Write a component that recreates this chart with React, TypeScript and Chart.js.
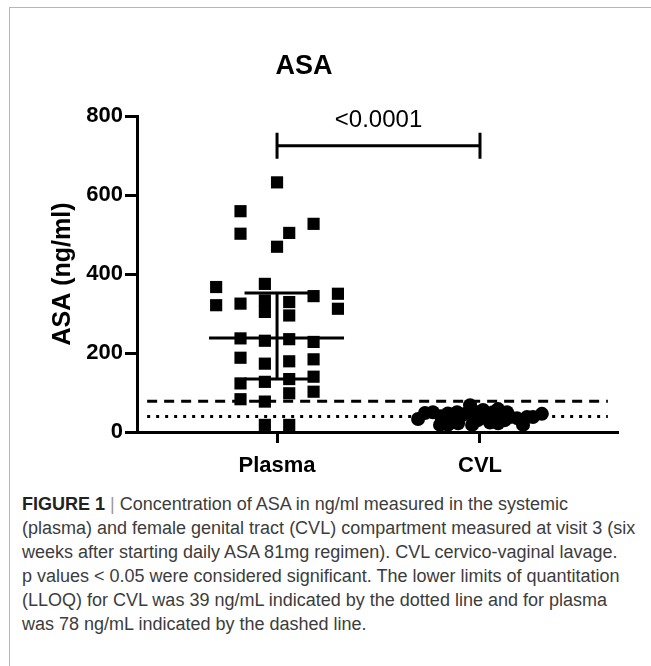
import React, { useEffect, useRef } from "react";
import { Chart, registerables } from "chart.js";

Chart.register(...registerables);

// ---------- data ----------
const categories = ["Plasma", "CVL"];
const yTickValues = [0, 200, 400, 600, 800];

// Plasma (squares): horizontal jitter (in category units) and ASA value (ng/ml)
const plasmaJitter = [
  0, -0.18, 0.18, 0.06, -0.18, 0,
  -0.3, -0.3,
  -0.18, -0.18, -0.18, -0.18, -0.18,
  -0.06, -0.06, -0.06, -0.06, -0.06, -0.06, -0.06, -0.06,
  0.06, 0.06, 0.06, 0.06, 0.06, 0.06, 0.06,
  0.18, 0.18, 0.18, 0.18, 0.18,
  0.3, 0.3,
];
const plasmaValues = [
  632, 559, 527, 504, 502, 469,
  367, 321,
  325, 237, 188, 123, 83,
  375, 333, 304, 231, 173, 127, 77, 18,
  329, 295, 235, 179, 134, 98, 18,
  344, 228, 184, 140, 102,
  350, 312,
];

// CVL (circles)
const cvlJitter = [
  -0.305, -0.271, -0.232, -0.197, -0.192, -0.158, -0.158, -0.123, -0.113, -0.108,
  -0.089, -0.064, -0.049, -0.039, -0.015, -0.01, 0.015, 0.034, 0.049, 0.064,
  0.089, 0.089, 0.123, 0.133, 0.148, 0.182, 0.212, 0.232, 0.261, 0.305,
];
const cvlValues = [
  33, 48, 50, 18, 40, 47, 18, 36, 50, 22,
  42, 48, 68, 18, 50, 30, 56, 38, 24, 50,
  58, 22, 30, 50, 38, 35, 18, 38, 38, 46,
];

// Plasma summary (median with interquartile range)
const plasmaMedian = 238;
const plasmaQ1 = 134;
const plasmaQ3 = 352;

// LLOQ reference lines
const lloqCVL = 39;
const lloqPlasma = 78;

// significance bracket
const bracketValue = 725;
const pValueLabel = "<0.0001";

const FONT = '"Liberation Sans", Arial, Helvetica, sans-serif';

const bracketPlugin = {
  id: "bracket",
  afterDatasetsDraw(chart: any) {
    const { ctx, scales } = chart;
    const x = scales.x;
    const y = scales.y;
    const x1 = x.getPixelForValue(1);
    const x2 = x.getPixelForValue(2);
    const yy = y.getPixelForValue(bracketValue);
    ctx.save();
    ctx.strokeStyle = "#000";
    ctx.lineWidth = 3;
    ctx.beginPath();
    ctx.moveTo(x1, yy);
    ctx.lineTo(x2, yy);
    ctx.moveTo(x1, yy - 13);
    ctx.lineTo(x1, yy + 13);
    ctx.moveTo(x2, yy - 13);
    ctx.lineTo(x2, yy + 13);
    ctx.stroke();
    ctx.fillStyle = "#000";
    ctx.font = `24px ${FONT}`;
    ctx.textAlign = "center";
    ctx.textBaseline = "alphabetic";
    ctx.fillText(pValueLabel, (x1 + x2) / 2, yy - 19);
    ctx.restore();
  },
};

function lineDs(points: { x: number; y: number }[], dash: number[] = []) {
  return {
    type: "scatter" as const,
    data: points,
    showLine: true,
    borderColor: "#000",
    borderWidth: 3,
    borderDash: dash,
    pointRadius: 0,
    fill: false,
    clip: false as any,
  };
}

export default function App() {
  const ref = useRef<HTMLCanvasElement | null>(null);

  useEffect(() => {
    if (!ref.current) return;
    const lineStart = 0.36;
    const lineEnd = 2.63;
    const chart = new Chart(ref.current, {
      type: "scatter",
      data: {
        datasets: [
          {
            data: plasmaValues.map((v, i) => ({ x: 1 + plasmaJitter[i], y: v })),
            pointStyle: "rect",
            pointRadius: 8.6,
            backgroundColor: "#000",
            borderColor: "#000",
            borderWidth: 0,
          },
          {
            data: cvlValues.map((v, i) => ({ x: 2 + cvlJitter[i], y: v })),
            pointStyle: "circle",
            pointRadius: 7,
            backgroundColor: "#000",
            borderColor: "#000",
            borderWidth: 0,
          },
          lineDs([{ x: 1 - 0.335, y: plasmaMedian }, { x: 1 + 0.33, y: plasmaMedian }]),
          lineDs([{ x: 1, y: plasmaQ1 }, { x: 1, y: plasmaQ3 }]),
          lineDs([{ x: 1 - 0.16, y: plasmaQ3 }, { x: 1 + 0.16, y: plasmaQ3 }]),
          lineDs([{ x: 1 - 0.16, y: plasmaQ1 }, { x: 1 + 0.16, y: plasmaQ1 }]),
          lineDs([{ x: lineStart, y: lloqPlasma }, { x: lineEnd, y: lloqPlasma }], [10, 7]),
          lineDs([{ x: lineStart, y: lloqCVL }, { x: lineEnd, y: lloqCVL }], [3, 6]),
        ] as any,
      },
      options: {
        animation: false,
        responsive: false,
        maintainAspectRatio: false,
        events: [],
        layout: { padding: { top: 116, right: 33, left: 0, bottom: 0 } },
        plugins: {
          legend: { display: false },
          tooltip: { enabled: false },
          title: { display: false },
        },
        scales: {
          x: {
            type: "linear",
            min: 0.31,
            max: 2.68,
            afterBuildTicks: (s: any) => {
              s.ticks = categories.map((_, i) => ({ value: i + 1 }));
            },
            afterFit: (s: any) => {
              s.height = 50;
            },
            ticks: {
              callback: (v: any) => categories[Math.round(v) - 1] ?? "",
              font: { family: FONT, weight: "bold", size: 22 },
              color: "#000",
              padding: 10,
              maxRotation: 0,
              autoSkip: false,
            },
            grid: {
              drawOnChartArea: false,
              drawTicks: true,
              tickLength: 11,
              tickWidth: 3,
              tickColor: "#000",
            },
            border: { display: true, color: "#000", width: 3 },
          },
          y: {
            type: "linear",
            min: 0,
            max: 800,
            afterBuildTicks: (s: any) => {
              s.ticks = yTickValues.map((v) => ({ value: v }));
            },
            afterFit: (s: any) => {
              s.width = 137;
            },
            ticks: {
              font: { family: FONT, weight: "bold", size: 22 },
              color: "#000",
              padding: 2,
            },
            grid: {
              drawOnChartArea: false,
              drawTicks: true,
              tickLength: 12,
              tickWidth: 3,
              tickColor: "#000",
            },
            border: { display: true, color: "#000", width: 3 },
            title: {
              display: true,
              text: "ASA (ng/ml)",
              color: "#000",
              font: { family: FONT, weight: "bold", size: 25 },
              padding: { top: 48, bottom: 0 },
            },
          },
        },
      } as any,
      plugins: [bracketPlugin],
    });
    return () => chart.destroy();
  }, []);

  const capLine: React.CSSProperties = { whiteSpace: "nowrap", height: 24, lineHeight: "24px" };

  return (
    <div style={{ position: "absolute", left: 0, top: 0, width: 651, height: 666, background: "#fff", overflow: "hidden" }}>
      <div style={{ position: "absolute", left: 9, top: 7, width: 642, height: 1, background: "#b5b5b5" }} />
      <div style={{ position: "absolute", left: 9, top: 7, width: 1, height: 659, background: "#b5b5b5" }} />
      <canvas ref={ref} width={651} height={482} style={{ position: "absolute", left: 0, top: 0, width: 651, height: 482 }} />
      <div
        style={{
          position: "absolute",
          left: 0,
          top: 47,
          width: 608,
          textAlign: "center",
          fontFamily: FONT,
          fontWeight: "bold",
          fontSize: 27,
          lineHeight: "36px",
          color: "#000",
        }}
      >
        ASA
      </div>
      <div
        style={{
          position: "absolute",
          left: 22,
          top: 492,
          fontFamily: FONT,
          fontSize: 18,
          color: "#3c3c3c",
        }}
      >
        <div style={capLine}>
          <b style={{ color: "#222" }}>FIGURE 1</b> <span style={{ color: "#999" }}>|</span> Concentration of ASA in ng/ml measured in the systemic
        </div>
        <div style={capLine}>(plasma) and female genital tract (CVL) compartment measured at visit 3 (six</div>
        <div style={capLine}>weeks after starting daily ASA 81mg regimen). CVL cervico-vaginal lavage.</div>
        <div style={capLine}>p values &lt; 0.05 were considered significant. The lower limits of quantitation</div>
        <div style={capLine}>(LLOQ) for CVL was 39 ng/mL indicated by the dotted line and for plasma</div>
        <div style={capLine}>was 78 ng/mL indicated by the dashed line.</div>
      </div>
    </div>
  );
}
